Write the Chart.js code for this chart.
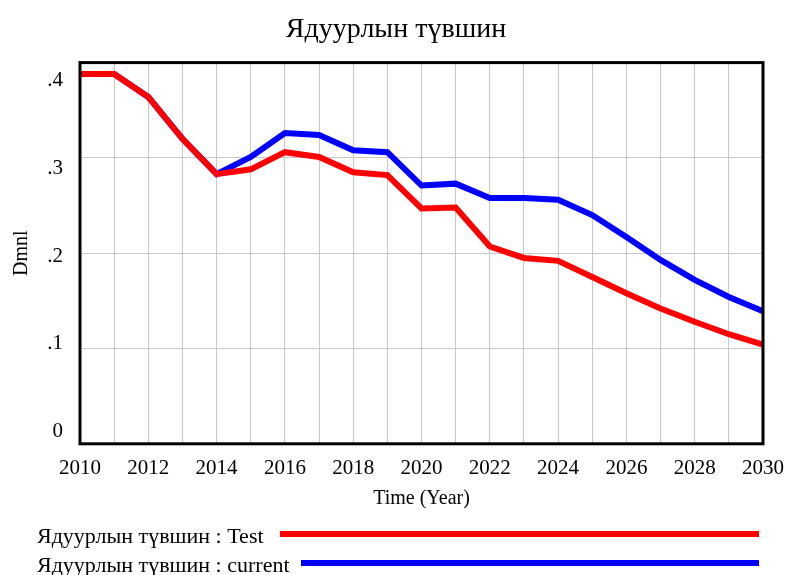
<!DOCTYPE html>
<html>
<head>
<meta charset="utf-8">
<script src="https://cdn.jsdelivr.net/npm/chart.js@4"></script>
<style>
  html, body { margin: 0; padding: 0; background: #fff; }
  #wrap { width: 786px; height: 575px; }
</style>
</head>
<body>
<div id="wrap"><canvas id="grafik"></canvas></div>
<script>
// Өгөгдөл
const years = [2010, 2011, 2012, 2013, 2014, 2015, 2016, 2017, 2018, 2019, 2020,
               2021, 2022, 2023, 2024, 2025, 2026, 2027, 2028, 2029, 2030];
const testValues = [0.388, 0.388, 0.364, 0.320, 0.283, 0.288, 0.306, 0.301, 0.285, 0.282, 0.247,
                    0.248, 0.207, 0.195, 0.192, 0.175, 0.158, 0.142, 0.128, 0.115, 0.104];
const currentValues = [0.388, 0.388, 0.364, 0.320, 0.283, 0.301, 0.326, 0.324, 0.308, 0.306, 0.271,
                       0.273, 0.258, 0.258, 0.256, 0.240, 0.217, 0.193, 0.172, 0.154, 0.139];
const seriesNames = ["Ядуурлын түвшин : Test", "Ядуурлын түвшин : current"];
const seriesColors = ["#ff0000", "#0000ff"];
const yTicks = [0, 0.1, 0.2, 0.3, 0.4];
const yTickLabels = ["0", ".1", ".2", ".3", ".4"];

const FONT = "'Liberation Serif', 'Times New Roman', serif";

const toPoints = vals => years.map((y, i) => ({ x: y, y: vals[i] }));

// Хүрээ
const framePlugin = {
  id: "frame",
  afterDatasetsDraw(chart) {
    const { ctx, chartArea: a } = chart;
    ctx.save();
    ctx.strokeStyle = "#000";
    ctx.lineWidth = 3;
    ctx.strokeRect(a.left, a.top, a.right - a.left, a.bottom - a.top);
    ctx.restore();
  }
};

// Y тэнхлэгийн шошго (Vensim шиг голруу шахсан)
const yLabelPlugin = {
  id: "yLabels",
  afterDraw(chart) {
    const { ctx, chartArea: a } = chart;
    const yScale = chart.scales.y;
    const mid = (a.top + a.bottom) / 2;
    ctx.save();
    ctx.font = "21px " + FONT;
    ctx.fillStyle = "#000";
    ctx.textAlign = "right";
    ctx.textBaseline = "middle";
    yTicks.forEach((v, i) => {
      const py = yScale.getPixelForValue(v);
      ctx.fillText(yTickLabels[i], a.left - 17, mid + 3 + (py - mid) * 0.92);
    });
    ctx.restore();
  }
};

// Доод тайлбар
const legendPlugin = {
  id: "bottomLegend",
  afterDraw(chart) {
    const { ctx } = chart;
    const rows = [
      { textY: 537, lineX: 280, lineY: 534 },
      { textY: 566, lineX: 301, lineY: 563 }
    ];
    ctx.save();
    ctx.font = "22px " + FONT;
    ctx.textBaseline = "middle";
    ctx.fillStyle = "#000";
    seriesNames.forEach((name, i) => {
      const r = rows[i];
      ctx.fillText(name, 37, r.textY);
      ctx.strokeStyle = seriesColors[i];
      ctx.lineWidth = 6;
      ctx.beginPath();
      ctx.moveTo(r.lineX, r.lineY);
      ctx.lineTo(759, r.lineY);
      ctx.stroke();
    });
    ctx.restore();
  }
};

new Chart(document.getElementById("grafik"), {
  type: "line",
  data: {
    datasets: [
      {
        label: seriesNames[0],
        data: toPoints(testValues),
        borderColor: seriesColors[0],
        borderWidth: 6,
        pointRadius: 0,
        tension: 0,
        order: 0
      },
      {
        label: seriesNames[1],
        data: toPoints(currentValues),
        borderColor: seriesColors[1],
        borderWidth: 6,
        pointRadius: 0,
        tension: 0,
        order: 1
      }
    ]
  },
  options: {
    responsive: true,
    maintainAspectRatio: false,
    animation: false,
    layout: { padding: { left: 6, right: 0, top: 13, bottom: 64 } },
    plugins: {
      legend: { display: false },
      tooltip: { enabled: false },
      title: {
        display: true,
        text: "Ядуурлын түвшин",
        color: "#000",
        font: { family: FONT, size: 28, weight: "normal" },
        padding: { top: 0, bottom: 16 }
      }
    },
    scales: {
      x: {
        type: "linear",
        min: 2010,
        max: 2030,
        grid: { color: "#c8c8c8", lineWidth: 1, drawTicks: false },
        border: { display: false },
        afterFit(scale) {
          scale.paddingRight = 23;
          scale.paddingLeft = 0;
        },
        ticks: {
          stepSize: 1,
          autoSkip: false,
          maxRotation: 0,
          padding: 12,
          color: "#000",
          font: { family: FONT, size: 21 },
          callback: v => (v % 2 === 0 ? String(v) : "")
        },
        title: {
          display: true,
          text: "Time (Year)",
          color: "#000",
          font: { family: FONT, size: 20 },
          padding: { top: -6, bottom: 0 }
        }
      },
      y: {
        min: 0,
        max: 0.4,
        grid: { color: "#c8c8c8", lineWidth: 1, drawTicks: false },
        border: { display: false },
        afterFit(scale) {
          scale.width = 74;
        },
        ticks: {
          stepSize: 0.1,
          display: false
        },
        title: {
          display: true,
          text: "Dmnl",
          color: "#000",
          font: { family: FONT, size: 20 },
          padding: { top: 4, bottom: 0 }
        }
      }
    }
  },
  plugins: [framePlugin, yLabelPlugin, legendPlugin]
});
</script>
</body>
</html>
